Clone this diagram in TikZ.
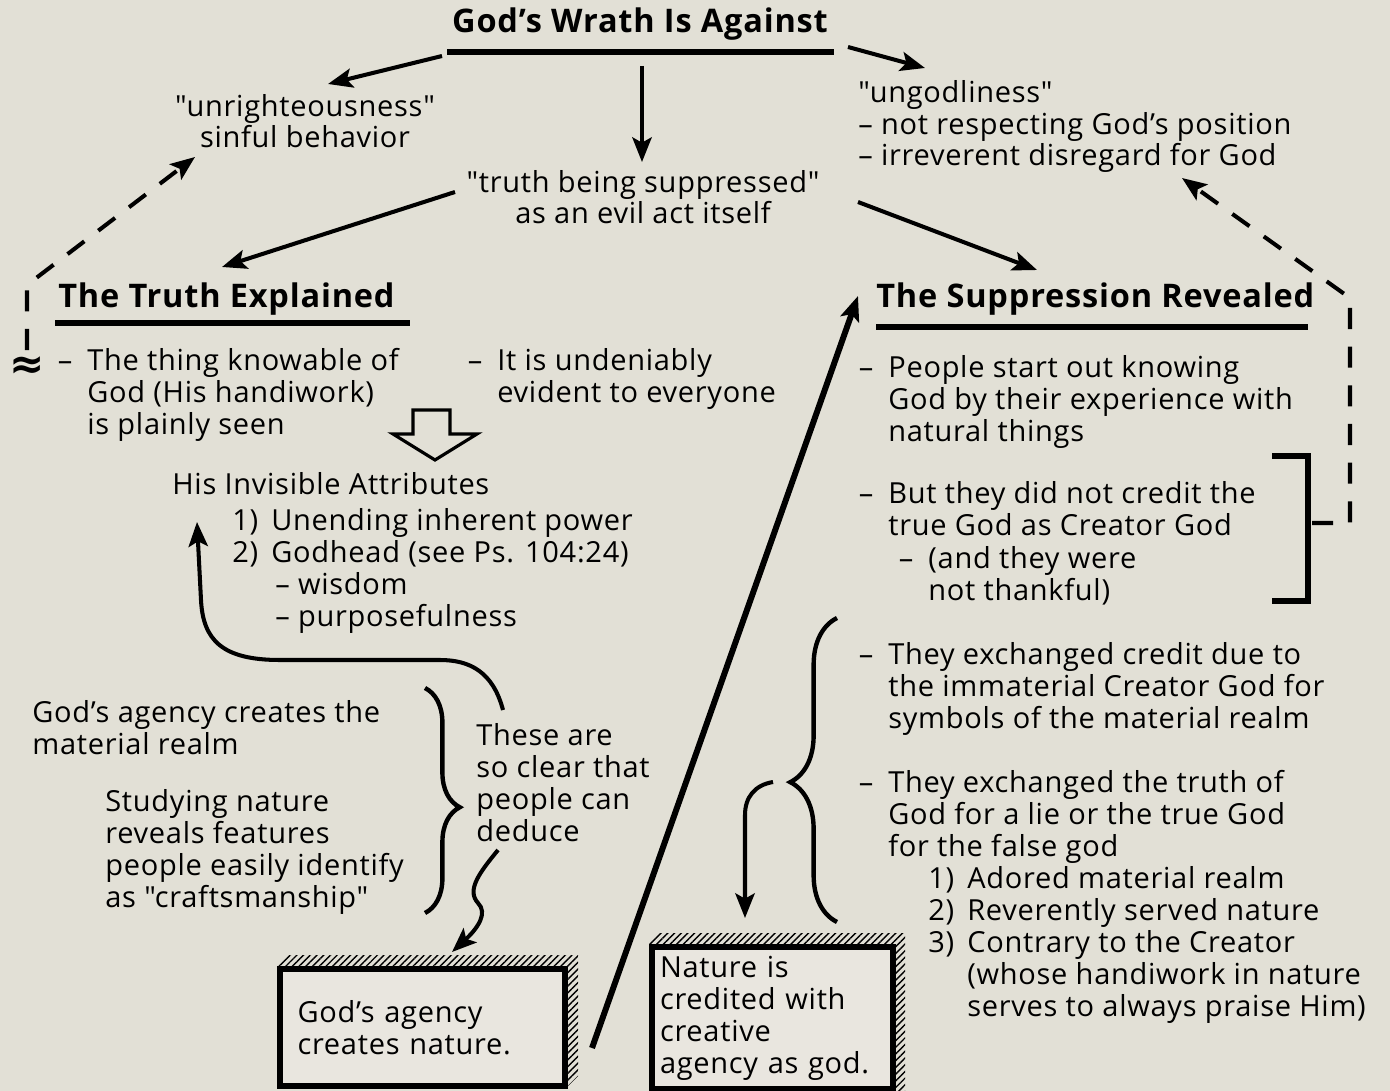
\documentclass[tikz,border=0pt]{standalone}
\usepackage{fontspec}
\setmainfont{Open Sans}[Ligatures=TeXOff, LetterSpace=2.5]
\newfontfamily\symfont{DejaVu Sans}
\usepackage{tikz}
\usetikzlibrary{arrows.meta, decorations.pathreplacing, patterns.meta}
\definecolor{paper}{RGB}{226,224,214}
\definecolor{card}{RGB}{233,230,223}
\newcommand\bodyfont{\fontsize{16.5}{18.2}\selectfont}
\newcommand\headfont{\fontsize{18.5}{20}\selectfont\bfseries}
\newcommand\bul{\llap{–\hspace{0.3cm}}}
\newcommand\numb[1]{\makebox[0.78cm][l]{#1}}
\tikzset{
  txt/.style={anchor=base west, align=left, inner sep=0pt, font=\bodyfont},
  ctxt/.style={anchor=base, align=center, inner sep=0pt, font=\bodyfont},
  head/.style={anchor=base west, inner sep=0pt, font=\headfont},
  arr/.style={-{Stealth[length=14pt,width=11pt,inset=3pt]}, line width=2.3pt},
  dasharr/.style={arr, dash pattern=on 12pt off 10pt},
  rule/.style={line width=3pt},
  brc/.style={line width=2.5pt, decorate},
  hatch/.style={pattern={Lines[angle=45,distance=2.7pt,line width=0.8pt]}},
  card/.style={draw, line width=3pt, fill=card, font=\bodyfont, align=left}
}

\begin{document}
\begin{tikzpicture}[x=0.02cm, y=-0.02cm]
  \fill[paper] (0,0) rectangle (1390,1091);
  \useasboundingbox (0,0) rectangle (1390,1091);

  % Top heading (multi-line nodes sit on their last baseline)
  \node[head, anchor=base] (wrath) at (640,33) {God’s Wrath Is Against};
  \draw[rule] (447,52) -- (834,52);

  \node[ctxt] (unr) at (305,148) {"unrighteousness"\\sinful behavior};
  \node[txt] (ungod) at (858,166) {"ungodliness"\\– not respecting God’s position\\– irreverent disregard for God};
  \node[ctxt] (truth) at (643,224) {"truth being suppressed"\\as an evil act itself};

  % Section headings
  \node[head] (expl) at (58,308) {The Truth Explained};
  \draw[rule] (55,323) -- (410,323);
  \node[head] (supp) at (876,308) {The Suppression Revealed};
  \draw[rule] (876,327) -- (1308,327);

  % Left column
  \node[font=\symfont\bfseries\fontsize{24}{24}\selectfont, inner sep=0pt] (approx) at (27,368) {≈};
  \node[txt] (knowable) at (87,434) {\bul The thing knowable of\\God (His handiwork)\\is plainly seen};
  \node[txt] (evident) at (497,402) {\bul It is undeniably\\evident to everyone};
  \draw[line width=1.8pt, line join=miter] (413,410) -- (450,410) -- (450,434) -- (477,434)
    -- (435,460) -- (393,434) -- (413,434) -- cycle;
  \node[txt] (attr) at (172,494) {His Invisible Attributes};
  \node[txt] (power) at (232,626) {\numb{1)}Unending inherent power\\\numb{2)}Godhead (see Ps. 104:24)\\\hspace*{0.86cm}– wisdom\\\hspace*{0.86cm}– purposefulness};
  \node[txt] (agency) at (32,754) {God’s agency creates the\\material realm};
  \node[txt] (study) at (105,907) {Studying nature\\reveals features\\people easily identify\\as "craftsmanship"};
  \node[txt] (clear) at (476,841) {These are\\so clear that\\people can\\deduce};
  \draw[brc, decoration={brace, amplitude=19.8pt, aspect=0.53}] (425,688) -- (425,913);

  % Right column
  \node[txt] (know) at (888,441) {\bul People start out knowing\\God by their experience with\\natural things};
  \node[txt] (credit) at (888,535) {\bul But they did not credit the\\true God as Creator God};
  \node[txt] (thank) at (928,600) {\bul (and they were\\not thankful)};
  \draw[rule] (1272,456) -- (1308,456) -- (1308,601) -- (1272,601);
  \node[txt] (immat) at (888,728) {\bul They exchanged credit due to\\the immaterial Creator God for\\symbols of the material realm};
  \node[txt] (lie) at (888,856) {\bul They exchanged the truth of\\God for a lie or the true God\\for the false god};
  \node[txt] (adored) at (928,1016) {\numb{1)}Adored material realm\\\numb{2)}Reverently served nature\\\numb{3)}Contrary to the Creator\\\hspace*{0.78cm}(whose handiwork in nature\\\hspace*{0.78cm}serves to always praise Him)};
  \draw[brc, decoration={brace, amplitude=26.6pt, aspect=0.46}] (837,922) -- (837,618);

  % Boxes at the bottom
  \fill[hatch] (278,966) -- (289,955) -- (578,955) -- (578,1076) -- (567,1087) -- cycle;
  \node[card, minimum width=5.7cm, minimum height=2.34cm, text width=5.0cm, inner xsep=0.35cm]
    (godbox) at (422.5,1027.5) {God’s agency\\creates nature.};
  \fill[hatch] (649,944) -- (660,933) -- (905,933) -- (905,1091) -- (893,1091) -- cycle;
  \node[card, minimum width=4.82cm, minimum height=2.84cm, text width=4.5cm, inner xsep=0.16cm]
    (natbox) at (772.5,1018) {Nature is\\credited with\\creative\\agency as god.};

  % Connector ends
  \coordinate (wl) at (442,56);
  \coordinate (unrtip) at (328,84);
  \coordinate (wd) at (642,66);
  \coordinate (truthtip) at (642,162);
  \coordinate (wr) at (848,47);
  \coordinate (ungtip) at (925,68);
  \coordinate (tl) at (455,192);
  \coordinate (expltip) at (222,267);
  \coordinate (tr) at (858,202);
  \coordinate (supptip) at (1037,270);
  \coordinate (lstart) at (27,350);
  \coordinate (lbend) at (27,285);
  \coordinate (sintip) at (195,157);
  \coordinate (bracket) at (1312,523);
  \coordinate (rbend) at (1350,298);
  \coordinate (godtip) at (1182,178);
  \coordinate (boxtail) at (592,1048);
  \coordinate (supparr) at (858,296);
  \coordinate (cleartop) at (503,710);
  \coordinate (attrtip) at (197,522);
  \coordinate (clearbot) at (498,850);
  \coordinate (boxtip) at (452,952);
  \coordinate (bracetip) at (773,782);
  \coordinate (nattip) at (745,918);

  % Arrows
  \draw[arr] (wl) -- (unrtip);
  \draw[arr] (wd) -- (truthtip);
  \draw[arr] (wr) -- (ungtip);
  \draw[arr] (tl) -- (expltip);
  \draw[arr] (tr) -- (supptip);
  \draw[dasharr] (lstart) -- (lbend) -- (sintip);
  \draw[dasharr] (bracket) -- (1350,523) -- (rbend) -- (godtip);
  \draw[arr, line width=3.4pt] (boxtail) -- (supparr);
  \draw[arr] (cleartop) .. controls (493,672) and (470,660) .. (440,660) -- (280,660)
    .. controls (222,660) and (203,640) .. (201,600) -- (attrtip);
  \draw[arr] (clearbot) .. controls (480,872) and (466,890) .. (478,903)
    .. controls (488,913) and (478,928) .. (boxtip);
  \draw[arr] (bracetip) .. controls (755,785) and (745,797) .. (745,815) -- (nattip);
\end{tikzpicture}
\end{document}
